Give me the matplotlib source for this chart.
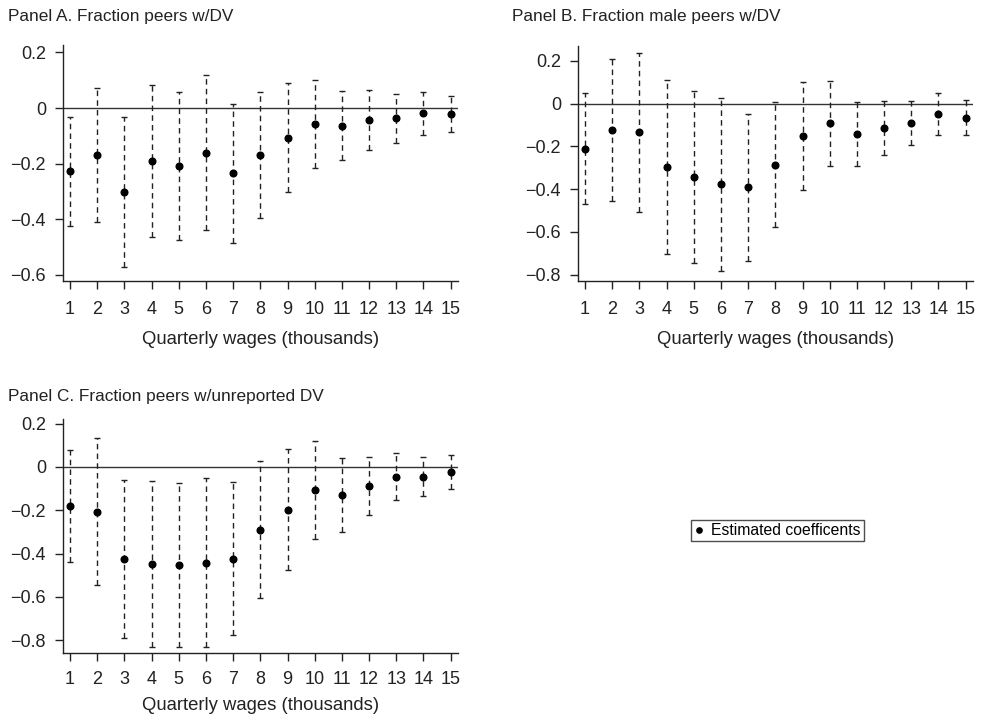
import matplotlib
matplotlib.use("Agg")
import matplotlib.pyplot as plt
from matplotlib.lines import Line2D
import numpy as np

plt.rcParams['font.family'] = ['Liberation Sans', 'DejaVu Sans']

wages = list(range(1, 16))

a_coef = [-0.228, -0.168, -0.301, -0.190, -0.209, -0.162, -0.235, -0.169, -0.107, -0.056, -0.065, -0.044, -0.037, -0.019, -0.023]
a_upper = [-0.031, 0.073, -0.031, 0.084, 0.059, 0.120, 0.014, 0.056, 0.089, 0.101, 0.060, 0.065, 0.050, 0.058, 0.042]
a_lower = [-0.424, -0.409, -0.571, -0.464, -0.475, -0.440, -0.485, -0.395, -0.304, -0.215, -0.188, -0.151, -0.127, -0.096, -0.086]

b_coef = [-0.211, -0.123, -0.134, -0.296, -0.343, -0.377, -0.391, -0.285, -0.153, -0.092, -0.142, -0.112, -0.090, -0.050, -0.066]
b_upper = [0.052, 0.207, 0.239, 0.112, 0.059, 0.027, -0.048, 0.006, 0.101, 0.105, 0.009, 0.014, 0.014, 0.048, 0.017]
b_lower = [-0.470, -0.454, -0.507, -0.703, -0.744, -0.781, -0.735, -0.579, -0.406, -0.290, -0.293, -0.240, -0.193, -0.145, -0.148]

c_coef = [-0.180, -0.206, -0.426, -0.450, -0.451, -0.442, -0.423, -0.290, -0.197, -0.107, -0.130, -0.087, -0.045, -0.047, -0.023]
c_upper = [0.078, 0.132, -0.060, -0.065, -0.076, -0.051, -0.068, 0.026, 0.085, 0.122, 0.042, 0.048, 0.064, 0.047, 0.057]
c_lower = [-0.440, -0.544, -0.788, -0.832, -0.831, -0.832, -0.777, -0.605, -0.477, -0.332, -0.302, -0.220, -0.152, -0.136, -0.101]

titles = ["Panel A. Fraction peers w/DV",
          "Panel B. Fraction male peers w/DV",
          "Panel C. Fraction peers w/unreported DV"]
xlabel = "Quarterly wages (thousands)"
legend_label = "Estimated coefficents"

a_yticks = [0.2, 0, -0.2, -0.4, -0.6]
bc_yticks = [0.2, 0, -0.2, -0.4, -0.6, -0.8]

W, H = 981, 716
fig = plt.figure(figsize=(W / 100, H / 100), dpi=100)

def px_axes(left, top, right, bottom):
    return fig.add_axes([left / W, 1 - bottom / H, (right - left) / W, (bottom - top) / H])

def fmt(v):
    if abs(v) < 1e-9:
        return "0"
    s = f"{abs(v):.1f}"
    return ("\u2212" + s) if v < 0 else s

def panel(ax, coef, lo, hi, ylim, yticks, title, title_px, xpad, lpad):
    coef = np.array(coef); lo = np.array(lo); hi = np.array(hi)
    ax.axhline(0, color='#333333', lw=1.0, zorder=1)
    eb = ax.errorbar(wages, coef, yerr=[coef - lo, hi - coef], fmt='o', color='black',
                     ms=4.8, ecolor='#222222', elinewidth=1.0, capsize=2.2, capthick=1.0, zorder=3)
    for lc in eb[2]:
        lc.set_linestyle((0, (4, 3)))
    ax.set_xlim(0.73, 15.26)
    ax.set_ylim(*ylim)
    ax.set_xticks(wages)
    ax.set_xticklabels([str(w) for w in wages])
    ax.set_yticks(yticks)
    ax.set_yticklabels([fmt(v) for v in yticks])
    for s in ['top', 'right']:
        ax.spines[s].set_visible(False)
    for s in ['left', 'bottom']:
        ax.spines[s].set_linewidth(1.0)
        ax.spines[s].set_color('#222222')
    ax.tick_params(axis='both', direction='out', length=6, width=1.0, color='#222222',
                   labelsize=13, labelcolor='#222222')
    ax.tick_params(axis='y', pad=6)
    ax.tick_params(axis='x', pad=xpad)
    ax.set_xlabel(xlabel, fontsize=13.3, color='#222222', labelpad=lpad)
    fig.text(title_px[0] / W, 1 - title_px[1] / H, title, fontsize=12.4, color='#222222',
             ha='left', va='baseline')

axA = px_axes(62.7, 45, 457.7, 280.7)
panel(axA, a_coef, a_lower, a_upper, (-0.622, 0.227), a_yticks, titles[0], (8, 21), 8.5, 9.3)

axB = px_axes(577.7, 46, 972.7, 280.7)
panel(axB, b_coef, b_lower, b_upper, (-0.828, 0.27), bc_yticks, titles[1], (512, 21), 8.5, 9.3)

axC = px_axes(62.7, 419.3, 457.7, 652.7)
panel(axC, c_coef, c_lower, c_upper, (-0.858, 0.22), bc_yticks, titles[2], (8, 401), 7.5, 5.8)

handle = Line2D([], [], marker='o', color='black', ls='none', ms=3.8)
leg = fig.legend([handle], [legend_label], loc='center', bbox_to_anchor=(777.5 / W, 1 - 530.5 / H),
                 frameon=True, fancybox=False, fontsize=11.3, handlelength=0.6, handletextpad=0.5,
                 borderpad=0.2, borderaxespad=0)
leg.get_frame().set_edgecolor('#222222')
leg.get_frame().set_linewidth(1.0)

fig.savefig("out.png", dpi=100)
